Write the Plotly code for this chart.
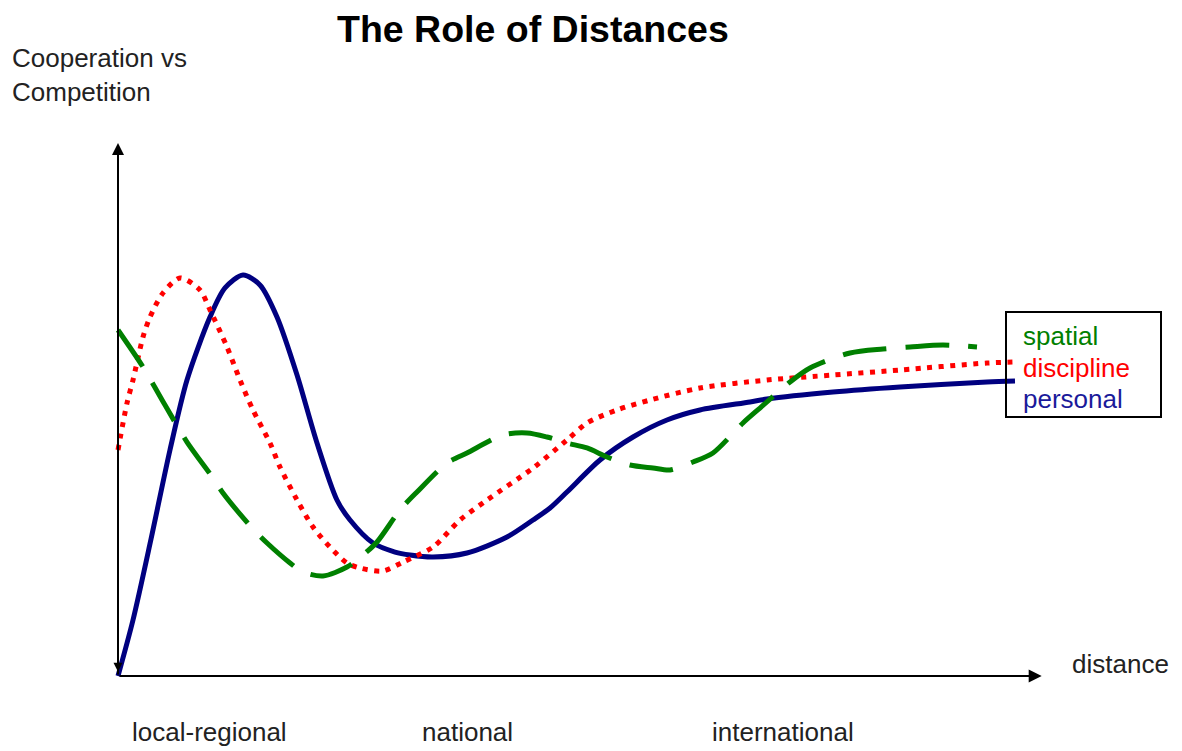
import plotly.graph_objects as go

# ---------------- data (x = distance, y = cooperation vs competition) -------------
personal_x = [0, 0.163, 0.359, 0.565, 0.75, 1.0, 1.163, 1.359, 1.543, 1.728, 1.946, 2.163, 2.38,
              2.522, 2.772, 3.011, 3.174, 3.424, 3.793, 4.228, 4.511, 4.696, 4.88, 5.239, 5.598, 5.967,
              6.326, 6.87, 7.054, 7.772, 8.5, 9.446, 9.75]
personal_y = [0, 1.051, 2.57, 4.24, 5.553, 6.735, 7.28, 7.523, 7.336, 6.735, 5.647, 4.371, 3.302,
              2.927, 2.495, 2.326, 2.27, 2.233, 2.308, 2.608, 2.927, 3.152, 3.452, 4.053, 4.484, 4.803,
              4.991, 5.141, 5.197, 5.328, 5.422, 5.516, 5.535]

discipline_x = [0, 0.098, 0.163, 0.272, 0.348, 0.489, 0.674, 0.891, 1.0, 1.185, 1.326, 1.467, 1.652, 1.761,
                1.946, 2.12, 2.304, 2.489, 2.63, 2.88, 3.098, 3.424, 3.717, 4.011, 4.511, 4.88, 5.098,
                5.424, 5.783, 6.326, 7.054, 7.772, 8.5, 9.446, 9.75]
discipline_y = [4.24, 5.122, 5.553, 6.36, 6.735, 7.186, 7.467, 7.242, 6.867, 6.173, 5.553, 4.991, 4.371, 3.921,
                3.302, 2.795, 2.42, 2.12, 2.026, 1.97, 2.139, 2.42, 2.927, 3.302, 3.902, 4.428, 4.747,
                4.991, 5.178, 5.403, 5.553, 5.647, 5.741, 5.872, 5.891]

spatial_x = [0, 0.272, 0.511, 0.75, 1.033, 1.141, 1.457, 1.62, 1.87, 2.011, 2.228, 2.489, 2.663, 2.815,
             3.065, 3.25, 3.576, 3.793, 4.185, 4.446, 4.663, 4.88, 5.098, 5.315, 5.565, 5.815, 6.0,
             6.25, 6.467, 6.793, 6.978, 7.304, 7.522, 7.957, 8.315, 8.609, 8.967, 9.337]
spatial_y = [6.492, 5.797, 5.084, 4.39, 3.715, 3.433, 2.777, 2.495, 2.12, 1.951, 1.876, 2.045, 2.27, 2.514,
             3.114, 3.452, 3.996, 4.184, 4.522, 4.559, 4.484, 4.371, 4.278, 4.109, 3.959, 3.902, 3.865,
             4.015, 4.184, 4.747, 5.028, 5.516, 5.779, 6.06, 6.135, 6.173, 6.21, 6.173]

series_names = ["spatial", "discipline", "personal"]
region_labels = ["local-regional", "national", "international"]
title_text = "The Role of Distances"
y_label = "Cooperation vs<br>Competition"
x_label = "distance"
axis_end = 10.04

# ---------------- layout helpers ----------------
W, H = 1182, 751
PAGE = 8                   # default body margin of the html page
OX, OY = 118 - PAGE, 676 - PAGE   # pixel position of the origin inside the figure
SX, SY = 92.0, 53.3        # pixels per data unit

def px(xp):
    return (xp - PAGE) / W

def py(yp):
    return 1 - (yp - PAGE) / H

FONT = "Liberation Sans, Arial, sans-serif"
GREEN, RED, NAVY = "#008000", "#ff0000", "#000080"

fig = go.Figure()
fig.add_trace(go.Scatter(x=personal_x, y=personal_y, mode="lines", name="personal",
                         line=dict(color=NAVY, width=5, shape="spline", smoothing=0.8)))
fig.add_trace(go.Scatter(x=discipline_x, y=discipline_y, mode="lines", name="discipline",
                         line=dict(color=RED, width=5, dash="5px,6.5px", shape="spline", smoothing=0.8)))
fig.add_trace(go.Scatter(x=spatial_x, y=spatial_y, mode="lines", name="spatial",
                         line=dict(color=GREEN, width=5, dash="44px,19px", shape="spline", smoothing=0.8)))

annotations = []
# axes with arrow heads
annotations.append(dict(x=axis_end, y=0, ax=0, ay=0, xref="x", yref="y", axref="x", ayref="y",
                        text="", showarrow=True, arrowhead=2, arrowsize=1.3, arrowwidth=2,
                        arrowcolor="black", standoff=0))
annotations.append(dict(x=0, y=10.0, ax=0, ay=0, xref="x", yref="y", axref="x", ayref="y",
                        text="", showarrow=True, arrowhead=2, arrowsize=1.2, arrowwidth=2,
                        arrowcolor="black", standoff=0))
annotations.append(dict(x=0, y=0.08, ax=0, ay=0.6, xref="x", yref="y", axref="x", ayref="y",
                        text="", showarrow=True, arrowhead=2, arrowsize=1.2, arrowwidth=1.5,
                        arrowcolor="black", standoff=0))

# title and axis labels
annotations.append(dict(x=px(533), y=py(29), xref="paper", yref="paper", text="<b>" + title_text + "</b>",
                        showarrow=False, xanchor="center", yanchor="middle",
                        font=dict(family=FONT, size=37.5, color="black")))
annotations.append(dict(x=px(10), y=py(75), xref="paper", yref="paper", text=y_label, align="left",
                        showarrow=False, xanchor="left", yanchor="middle",
                        font=dict(family=FONT, size=26, color="#222222")))
annotations.append(dict(x=px(1070), y=py(664), xref="paper", yref="paper", text=x_label,
                        showarrow=False, xanchor="left", yanchor="middle",
                        font=dict(family=FONT, size=26, color="#222222")))
for lab, xl in zip(region_labels, [130, 420, 710]):
    annotations.append(dict(x=px(xl), y=py(732), xref="paper", yref="paper", text=lab,
                            showarrow=False, xanchor="left", yanchor="middle",
                            font=dict(family=FONT, size=26, color="#222222")))

# legend (text only, inside a box)
for name, col, yl in zip(series_names, [GREEN, RED, "#1a1a9a"], [336, 368, 399]):
    annotations.append(dict(x=px(1021), y=py(yl), xref="paper", yref="paper", text=name,
                            showarrow=False, xanchor="left", yanchor="middle",
                            font=dict(family=FONT, size=26, color=col)))

shapes = [dict(type="rect", xref="paper", yref="paper", x0=px(1006), x1=px(1161), y0=py(417), y1=py(312),
               line=dict(color="black", width=2), fillcolor="rgba(0,0,0,0)")]

fig.update_layout(
    width=W, height=H, autosize=False,
    margin=dict(l=0, r=0, t=0, b=0),
    paper_bgcolor="white", plot_bgcolor="white",
    showlegend=False,
    xaxis=dict(range=[-OX / SX, (W - OX) / SX], visible=False, fixedrange=True),
    yaxis=dict(range=[-(H - OY) / SY, OY / SY], visible=False, fixedrange=True),
    annotations=annotations, shapes=shapes,
)

fig.write_html("out.html")
